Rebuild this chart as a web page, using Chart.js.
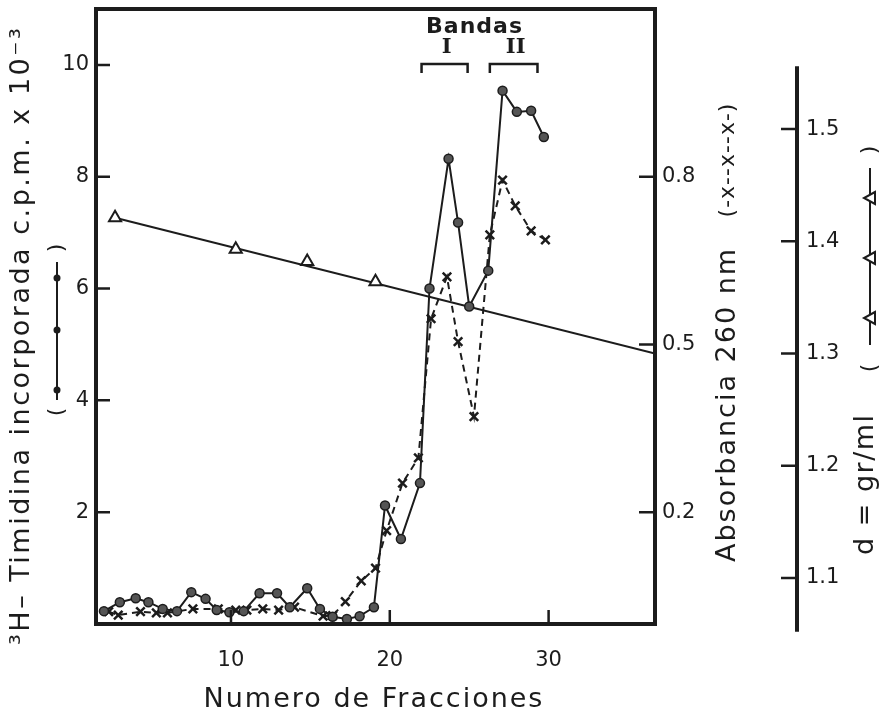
<!DOCTYPE html>
<html>
<head>
<meta charset="utf-8">
<script src="https://cdn.jsdelivr.net/npm/chart.js@4.4.1/dist/chart.umd.min.js"></script>
<style>
  html, body { margin: 0; padding: 0; background: #fff; }
  canvas { display: block; }
</style>
</head>
<body>
<canvas id="grafico" width="885" height="723"></canvas>
<script>
// fracciones y valores
var fraccionesTimidina = [2.0, 3.0, 4.0, 4.8, 5.7, 6.6, 7.5, 8.4, 9.1, 9.9, 10.8, 11.8, 12.9, 13.7, 14.8, 15.6,
    16.4, 17.3, 18.1, 19.0, 19.7, 20.7, 21.9, 22.5, 23.7, 24.3, 25.0, 26.2, 27.1, 28.0, 28.9, 29.7];
var cpmTimidina = [0.23, 0.39, 0.46, 0.39, 0.27, 0.23, 0.57, 0.45, 0.25, 0.21, 0.23, 0.55, 0.55, 0.30, 0.64, 0.27,
    0.13, 0.09, 0.14, 0.30, 2.12, 1.52, 2.52, 6.0, 8.32, 7.18, 5.68, 6.32, 9.54, 9.16, 9.18, 8.71];

var fraccionesAbs = [2.3, 2.9, 4.3, 5.3, 6.0, 7.6, 9.2, 10.3, 11.0, 12.0, 13.0, 14.0, 15.8, 16.4, 17.2, 18.2,
    19.1, 19.8, 20.8, 21.8, 22.6, 23.6, 24.3, 25.3, 26.3, 27.1, 27.9, 28.9, 29.8];
var absorbancia260 = [0.022, 0.016, 0.022, 0.02, 0.02, 0.027, 0.027, 0.025, 0.025, 0.027, 0.025, 0.03, 0.014, 0.015, 0.04, 0.077,
    0.10, 0.167, 0.252, 0.297, 0.546, 0.621, 0.505, 0.371, 0.696, 0.794, 0.748, 0.703, 0.687];

var fraccionesDensidad = [2.7, 10.3, 14.8, 19.1];
var densidad = [1.421, 1.393, 1.382, 1.364];
// recta de densidad (extremos)
var rectaFracciones = [2.7, 36.7];
var rectaDensidad = [1.421, 1.300];

var ticksX = [10, 20, 30];
var ticksCpm = [2, 4, 6, 8, 10];
var ticksAbs = [0.2, 0.5, 0.8];
var ticksDens = [1.1, 1.2, 1.3, 1.4, 1.5];

var bandas = [{ nombre: 'I', desde: 22.0, hasta: 24.9 }, { nombre: 'II', desde: 26.3, hasta: 29.3 }];

var tinta = '#1c1c1c';
var fuente = '"DejaVu Sans", sans-serif';

function puntos(xs, ys) {
    return xs.map(function (x, i) { return { x: x, y: ys[i] }; });
}

function fijarTicks(valores) {
    return function (scale) {
        scale.ticks = valores.map(function (v) { return { value: v }; });
    };
}

function anchoFijo(ancho) {
    return function (scale) {
        scale.width = ancho;
        scale.paddingTop = 0;
        scale.paddingBottom = 0;
    };
}

// dibuja marco, ticks hacia adentro, titulos y bandas
var decorado = {
    id: 'decorado',
    afterDraw: function (chart) {
        var ctx = chart.ctx;
        var a = chart.chartArea;
        var sx = chart.scales.x, sy = chart.scales.y, sa = chart.scales.yA, sd = chart.scales.yD;
        ctx.save();
        ctx.strokeStyle = tinta;
        ctx.fillStyle = tinta;
        ctx.lineCap = 'butt';

        // marco
        ctx.lineWidth = 4;
        ctx.strokeRect(a.left, a.top, a.right - a.left, a.bottom - a.top);

        // ticks hacia adentro
        ctx.lineWidth = 2.5;
        ctx.beginPath();
        ticksCpm.forEach(function (v) {
            var py = sy.getPixelForValue(v);
            ctx.moveTo(a.left, py); ctx.lineTo(a.left + 14, py);
        });
        ticksAbs.forEach(function (v) {
            var py = sa.getPixelForValue(v);
            ctx.moveTo(a.right, py); ctx.lineTo(a.right - 16, py);
        });
        ticksX.forEach(function (v) {
            var px = sx.getPixelForValue(v);
            ctx.moveTo(px, a.bottom); ctx.lineTo(px, a.bottom - 14);
        });
        ctx.stroke();

        // eje de densidad
        var xd = sd.left;
        ctx.lineWidth = 4;
        ctx.beginPath();
        ctx.moveTo(xd, sd.getPixelForValue(1.556));
        ctx.lineTo(xd, sd.getPixelForValue(1.052));
        ctx.stroke();
        ctx.lineWidth = 2.5;
        ctx.beginPath();
        ticksDens.forEach(function (v) {
            var py = sd.getPixelForValue(v);
            ctx.moveTo(xd, py); ctx.lineTo(xd - 16, py);
        });
        ctx.stroke();

        // titulos
        ctx.textBaseline = 'middle';
        ctx.textAlign = 'center';
        ctx.font = '27px ' + fuente;
        ctx.letterSpacing = '2px';
        ctx.fillText('Numero de Fracciones', 374, 700);

        function vertical(texto, x, y, tam, alinear, espacio) {
            ctx.save();
            ctx.translate(x, y);
            ctx.rotate(-Math.PI / 2);
            ctx.font = tam + 'px ' + fuente;
            ctx.letterSpacing = (espacio || 0) + 'px';
            ctx.textAlign = alinear || 'center';
            ctx.fillText(texto, 0, 0);
            ctx.restore();
        }
        vertical('\u00b3H\u2013 Timidina incorporada c.p.m. x 10\u207b\u00b3', 22, 645, 27, 'left', 2.5);
        vertical('Absorbancia 260 nm', 728, 562, 27, 'left', 2);
        vertical('(-x--x--x-)', 728, 160, 22, 'center', 1);
        vertical('d = gr/ml', 866, 555, 27, 'left', 1.5);

        // simbolo timidina
        var cx = 57;
        ctx.lineWidth = 2;
        ctx.beginPath();
        ctx.moveTo(cx, 262); ctx.lineTo(cx, 400);
        ctx.stroke();
        [278, 330, 390].forEach(function (py) {
            ctx.beginPath();
            ctx.arc(cx, py, 3.5, 0, Math.PI * 2);
            ctx.fill();
        });
        vertical('(', cx, 412, 22);
        vertical(')', cx, 248, 22);

        // simbolo densidad
        var tx = 870;
        ctx.beginPath();
        ctx.moveTo(tx, 168); ctx.lineTo(tx, 345);
        ctx.stroke();
        [198, 258, 318].forEach(function (py) {
            ctx.beginPath();
            ctx.moveTo(tx + 5, py - 6);
            ctx.lineTo(tx - 6, py);
            ctx.lineTo(tx + 5, py + 6);
            ctx.closePath();
            ctx.fillStyle = '#fff';
            ctx.fill();
            ctx.stroke();
        });
        ctx.fillStyle = tinta;
        vertical('(', tx, 368, 22);
        vertical(')', tx, 150, 22);

        // bandas
        ctx.font = 'bold 22px ' + fuente;
        ctx.letterSpacing = '1px';
        ctx.textAlign = 'center';
        var x0 = sx.getPixelForValue(bandas[0].desde);
        var x1 = sx.getPixelForValue(bandas[bandas.length - 1].hasta);
        ctx.fillText('Bandas', (x0 + x1) / 2 - 5, 27);
        ctx.letterSpacing = '0px';
        ctx.lineWidth = 2.5;
        bandas.forEach(function (b) {
            var p0 = sx.getPixelForValue(b.desde), p1 = sx.getPixelForValue(b.hasta);
            ctx.beginPath();
            ctx.moveTo(p0, 73); ctx.lineTo(p0, 64); ctx.lineTo(p1, 64); ctx.lineTo(p1, 73);
            ctx.stroke();
            ctx.font = 'bold 21px "DejaVu Serif", serif';
            ctx.fillText(b.nombre, (p0 + p1) / 2 + 2, 48);
        });
        ctx.restore();
    }
};

var ctx = document.getElementById('grafico').getContext('2d');
var grafico = new Chart(ctx, {
    type: 'line',
    data: {
        datasets: [{
            label: 'Densidad',
            data: puntos(fraccionesDensidad, densidad),
            yAxisID: 'yD',
            showLine: false,
            pointStyle: 'triangle',
            pointRadius: 7,
            pointBorderWidth: 2,
            pointBackgroundColor: '#fff',
            pointBorderColor: tinta
        }, {
            label: 'Timidina',
            data: puntos(fraccionesTimidina, cpmTimidina),
            yAxisID: 'y',
            borderColor: tinta,
            borderWidth: 2,
            pointRadius: 4.5,
            pointBorderWidth: 1.5,
            pointBackgroundColor: '#555',
            pointBorderColor: tinta
        }, {
            label: 'Absorbancia',
            data: puntos(fraccionesAbs, absorbancia260),
            yAxisID: 'yA',
            borderColor: tinta,
            borderWidth: 2,
            borderDash: [7, 5],
            pointStyle: 'crossRot',
            pointRadius: 6,
            pointBorderWidth: 2.5,
            pointBorderColor: tinta
        }, {
            label: 'Recta densidad',
            data: puntos(rectaFracciones, rectaDensidad),
            yAxisID: 'yD',
            borderColor: tinta,
            borderWidth: 2,
            pointRadius: 0
        }]
    },
    options: {
        responsive: false,
        animation: false,
        layout: { padding: { top: 7, left: 0, right: 0, bottom: 0 } },
        plugins: { legend: { display: false }, tooltip: { enabled: false } },
        scales: {
            x: {
                type: 'linear',
                min: 1.5,
                max: 36.7,
                afterBuildTicks: fijarTicks(ticksX),
                afterFit: function (scale) {
                    scale.height = 99;
                    scale.paddingLeft = 0;
                    scale.paddingRight = 0;
                },
                grid: { display: false, drawTicks: false },
                border: { display: false },
                ticks: { padding: 24, color: tinta, font: { size: 21, family: fuente } }
            },
            y: {
                position: 'left',
                min: 0,
                max: 11,
                afterBuildTicks: fijarTicks(ticksCpm),
                afterFit: anchoFijo(96),
                grid: { display: false, drawTicks: false },
                border: { display: false },
                ticks: { padding: 7, color: tinta, font: { size: 21, family: fuente } }
            },
            yA: {
                position: 'right',
                min: 0,
                max: 1.1,
                afterBuildTicks: fijarTicks(ticksAbs),
                afterFit: anchoFijo(142),
                grid: { display: false, drawTicks: false },
                border: { display: false },
                ticks: {
                    padding: 7, color: tinta, font: { size: 21, family: fuente },
                    callback: function (v) { return v.toFixed(1); }
                }
            },
            yD: {
                position: 'right',
                min: 1.059,
                max: 1.607,
                afterBuildTicks: fijarTicks(ticksDens),
                afterFit: anchoFijo(88),
                grid: { display: false, drawTicks: false },
                border: { display: false },
                ticks: {
                    padding: 9, color: tinta, font: { size: 21, family: fuente },
                    callback: function (v) { return v.toFixed(1); }
                }
            }
        }
    },
    plugins: [decorado]
});
</script>
</body>
</html>
